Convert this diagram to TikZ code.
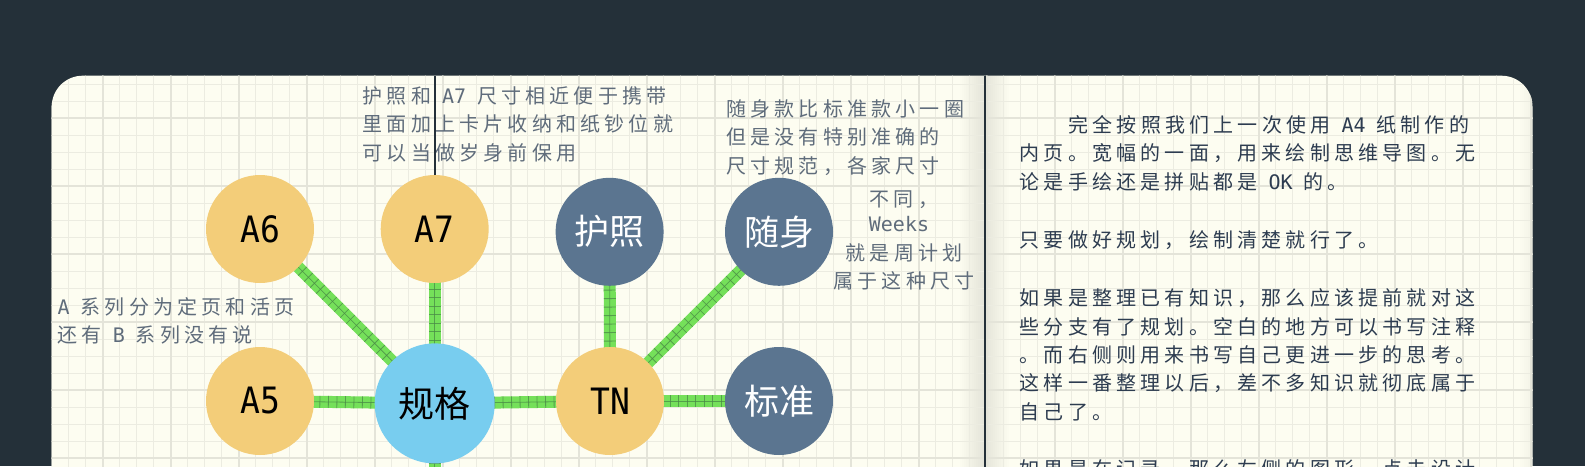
\documentclass[tikz,border=0pt]{standalone}
\usepackage{fontspec}
\newfontfamily\cjk[LetterSpace=21]{Noto Sans CJK SC}
\newfontfamily\cjkn{Noto Sans CJK SC}
\newfontfamily\lat{DejaVu Sans Mono}
\pgfdeclarelayer{bg}
\pgfdeclarelayer{edges}
\pgfsetlayers{bg,edges,main}
\definecolor{darkbg}{HTML}{243039}
\definecolor{paper}{HTML}{FDFDF1}
\definecolor{gridminor}{HTML}{ECECE1}
\definecolor{gridmajor}{HTML}{E4E4D9}
\definecolor{nodeyellow}{HTML}{F3CD79}
\definecolor{nodeblue}{HTML}{78CDEF}
\definecolor{nodeslate}{HTML}{5B7590}
\definecolor{edgegreen}{HTML}{75E05A}
\definecolor{hatchgreen}{HTML}{4A8A46}
\definecolor{notegray}{HTML}{5F6C7B}
\definecolor{inkblue}{HTML}{2D3C50}
\newcommand\ggap{\hspace{11pt}}
\newcommand\tallx[1]{\scalebox{1}[1.1]{#1}}
\newcommand\hatchlink[2]{%
  \draw[link] (#1.center) -- (#2.center);
  \draw[linkhatch] (#1.center) -- (#2.center);
  \draw[linkspine] (#1.center) -- (#2.center);}
\tikzset{
  bubble/.style={circle, minimum size=108pt, inner sep=0pt, outer sep=0pt},
  sizenode/.style={bubble, fill=nodeyellow, text=black, font=\lat\fontsize{33}{33}\selectfont},
  hubnode/.style={bubble, minimum size=120pt, fill=nodeblue, text=black, font=\cjkn\fontsize{36}{36}\selectfont},
  kindnode/.style={bubble, fill=nodeslate, text=white, font=\cjkn\fontsize{35}{35}\selectfont},
  link/.style={edgegreen, line width=12pt},
  linkhatch/.style={hatchgreen, draw opacity=0.75, line width=12pt, dash pattern=on 0.8pt off 7.7pt},
  linkspine/.style={hatchgreen, draw opacity=0.75, line width=0.8pt},
  note/.style={anchor=base west, inner sep=0pt, text=notegray, font=\cjk\fontsize{20}{20}\selectfont},
  notec/.style={anchor=base, inner sep=0pt, text=notegray, font=\cjk\fontsize{20}{20}\selectfont},
  para/.style={anchor=base west, inner sep=0pt, text=inkblue, font=\cjk\fontsize{20}{20}\selectfont},
  gridthin/.style={gridminor, line width=1.2pt},
  gridthick/.style={gridmajor, line width=2pt},
  rule/.style={darkbg, line width=2.3pt},
}
\begin{document}
\begin{tikzpicture}[x=1pt,y=-1pt]
\useasboundingbox (0,0) rectangle (1585,466);
\begin{pgfonlayer}{bg}
  \fill[darkbg] (0,0) rectangle (1585,466);
  \fill[paper, rounded corners=31pt] (51.7,75.7) rectangle (1532.5,600);
  \begin{scope}
    \clip[rounded corners=31pt] (51.7,75.7) rectangle (1532.5,600);
    % page shadows
    \foreach \j in {0,...,11}{
      \pgfmathsetmacro\op{0.008*(\j+1)}
      \fill[black, fill opacity=\op] (960+2*\j,70) rectangle (962+2*\j,480);
      \pgfmathsetmacro\oq{0.008*(12-\j)}
      \fill[black, fill opacity=\oq] (985+2*\j,70) rectangle (987+2*\j,480);
    }
    \foreach \j in {0,...,5}{
      \pgfmathsetmacro\op{0.006*(\j+1)}
      \fill[black, fill opacity=\op] (1520+2*\j,70) rectangle (1522+2*\j,480);
    }
    % grid
    \foreach \i in {0,...,87} \draw[gridthin] (51.7+17*\i,60) -- (51.7+17*\i,480);
    \foreach \i in {0,...,24} \draw[gridthin] (40,67.3+17*\i) -- (1545,67.3+17*\i);
    \foreach \i in {0,...,21} \draw[gridthick] (102.7+68*\i,60) -- (102.7+68*\i,480);
    \foreach \i in {0,...,5} \draw[gridthick] (40,118.3+68*\i) -- (1545,118.3+68*\i);
  \end{scope}
\end{pgfonlayer}

% nodes
\node[sizenode] (a6) at (260,229) {\tallx{A6}};
\node[sizenode] (a7) at (434.7,229) {\tallx{A7}};
\node[kindnode] (huzhao) at (609.6,231.8) {护照};
\node[kindnode] (suishen) at (779,231.8) {随身};
\node[sizenode] (a5) at (260,401) {\tallx{A5}};
\node[hubnode] (guige) at (434.7,403.4) {规格};
\node[sizenode] (tn) at (610,401) {\tallx{TN}};
\node[kindnode] (biaozhun) at (779,401) {标准};
\coordinate (guigedown) at (434.7,540);
\coordinate (a7top) at (434.7,75.7);
\coordinate (pagetop) at (984.7,75.7);
\coordinate (pagebottom) at (984.7,480);

% edges
\begin{pgfonlayer}{edges}
  \hatchlink{a6}{guige}
  \hatchlink{a7}{guige}
  \hatchlink{a5}{guige}
  \hatchlink{guige}{guigedown}
  \hatchlink{guige}{tn}
  \hatchlink{tn}{huzhao}
  \hatchlink{tn}{suishen}
  \hatchlink{tn}{biaozhun}
\end{pgfonlayer}

% notes
\node[note] (pa1) at (362.5,103.6) {护照和\ggap{\lat A7}\ggap 尺寸相近便于携带};
\node[note] (pa2) at (362.5,131.9) {里面加上卡片收纳和纸钞位就};
\node[note] (pa3) at (362.5,160.9) {可以当做岁身前保用};

\node[note] (sa1) at (726,116.8) {随身款比标准款小一圈};
\node[note] (sa2) at (726,144.8) {但是没有特别准确的};
\node[note] (sa3) at (726,173.2) {尺寸规范，各家尺寸};
\node[notec] (sa4) at (904,206.8) {不同，};
\node[notec] (sa5) at (899,231.7) {{\lat Weeks}};
\node[notec] (sa6) at (904,260.1) {就是周计划};
\node[notec] (sa7) at (904,288.4) {属于这种尺寸};

\node[note] (aa1) at (57.5,314.3) {{\lat A}\ggap 系列分为定页和活页};
\node[note] (aa2) at (57.5,342.6) {还有\ggap{\lat B}\ggap 系列没有说};

% right page paragraph
\node[para] (p1) at (1068.3,132.6) {完全按照我们上一次使用\ggap{\lat A4}\ggap 纸制作的};
\node[para] (p2) at (1019.5,160.9) {内页。宽幅的一面，用来绘制思维导图。无};
\node[para] (p3) at (1019.5,189.3) {论是手绘还是拼贴都是\ggap{\lat OK}\ggap 的。};
\node[para] (p4) at (1019.5,247.6) {只要做好规划，绘制清楚就行了。};
\node[para] (p5) at (1019.5,305.9) {如果是整理已有知识，那么应该提前就对这};
\node[para] (p6) at (1019.5,334.3) {些分支有了规划。空白的地方可以书写注释};
\node[para] (p7) at (1019.5,362.6) {。而右侧则用来书写自己更进一步的思考。};
\node[para] (p8) at (1019.5,390.9) {这样一番整理以后，差不多知识就彻底属于};
\node[para] (p9) at (1019.5,419.3) {自己了。};
\node[para] (p10) at (1019.5,476) {如果是在记录，那么左侧的图形，点击设计};

% rules
\draw[darkbg, line width=2pt] (a7.north) -- (a7top);
\draw[rule] (pagetop) -- (pagebottom);
\end{tikzpicture}
\end{document}
